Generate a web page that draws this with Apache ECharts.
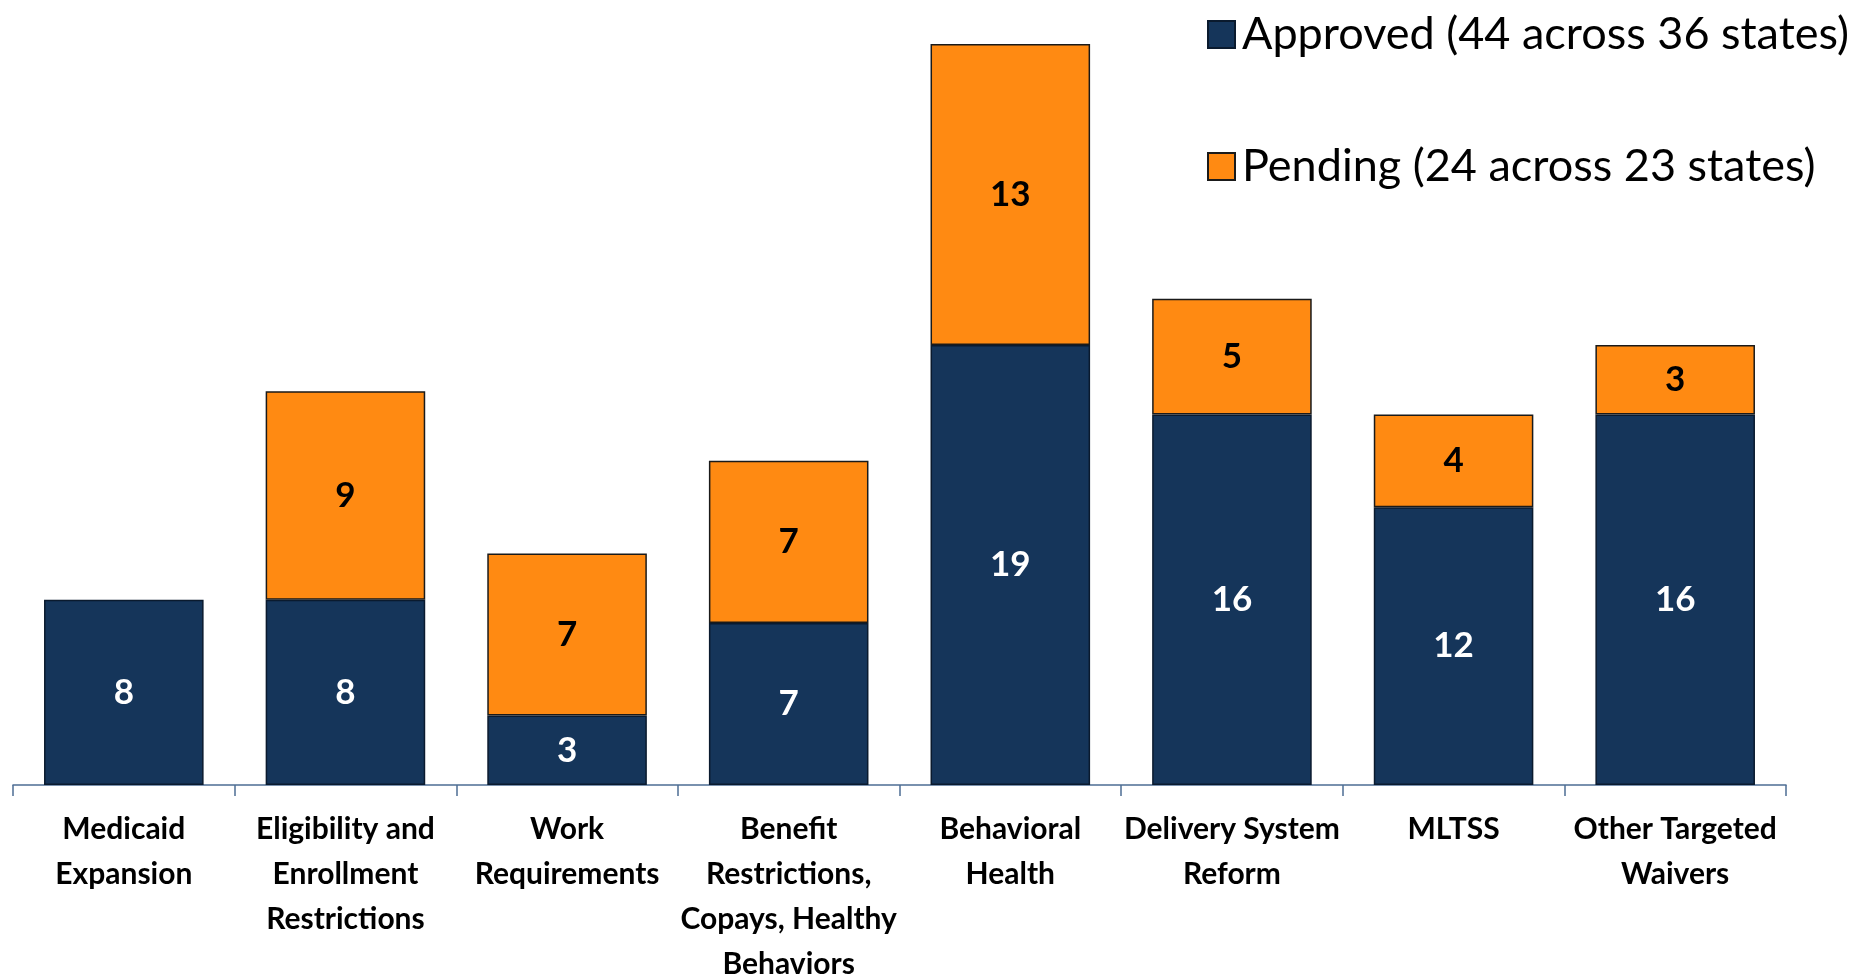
<!DOCTYPE html>
<html>
<head>
<meta charset="utf-8">
<script src="https://cdn.jsdelivr.net/npm/echarts@6/dist/echarts.min.js"></script>
<style>
html, body { margin: 0; padding: 0; background: #ffffff; overflow: hidden; }
#chart { width: 1863px; height: 975px; }
</style>
</head>
<body>
<div id="chart"></div>
<script>
// values
const categories = [
    "Medicaid\nExpansion",
    "Eligibility and\nEnrollment\nRestrictions",
    "Work\nRequirements",
    "Benefit\nRestrictions,\nCopays, Healthy\nBehaviors",
    "Behavioral\nHealth",
    "Delivery System\nReform",
    "MLTSS",
    "Other Targeted\nWaivers"
]
const approved = [8, 8, 3, 7, 19, 16, 12, 16]
const pending = [null, 9, 7, 7, 13, 5, 4, 3]

const approvedName = "Approved (44 across 36 states)"
const pendingName = "Pending (24 across 23 states)"

const NAVY = "#15355A"
const ORANGE = "#FF8A12"
const FONT = "Lato, 'Open Sans', sans-serif"

let chart = echarts.init(document.getElementById("chart"))

function legendAt(name, top) {
    return {
        data: [name],
        left: 1202,
        top: top,
        itemWidth: 27,
        itemHeight: 27,
        itemGap: 0,
        icon: "rect",
        selectedMode: false,
        textStyle: { fontFamily: FONT, fontSize: 45, color: "#000", padding: [0, 0, 0, 2] }
    }
}

chart.setOption({
    animation: false,
    backgroundColor: "#fff",
    legend: [legendAt(approvedName, 7), legendAt(pendingName, 139)],
    grid: { left: 13, right: 77, top: 44, bottom: 190, containLabel: false, outerBoundsMode: "none" },
    xAxis: {
        type: "category",
        data: categories,
        axisLine: { lineStyle: { color: "#4d6d94", width: 1.5 } },
        axisTick: { show: true, length: 11, lineStyle: { color: "#4d6d94", width: 1.5 } },
        axisLabel: {
            interval: 0,
            margin: 22,
            fontFamily: FONT,
            fontSize: 30,
            fontWeight: "bold",
            lineHeight: 45,
            color: "#000"
        }
    },
    yAxis: {
        type: "value",
        min: 0,
        max: 32,
        show: false,
        splitLine: { show: false }
    },
    series: [
        {
            name: approvedName,
            type: "bar",
            stack: "total",
            data: approved,
            barCategoryGap: "28%",
            itemStyle: { color: NAVY, borderColor: "#0a1a2e", borderWidth: 1.5 },
            label: {
                show: true,
                position: "inside",
                color: "#fff",
                fontFamily: FONT,
                fontSize: 35,
                fontWeight: "bold"
            }
        },
        {
            name: pendingName,
            type: "bar",
            stack: "total",
            data: pending,
            itemStyle: { color: ORANGE, borderColor: "#1a1a1a", borderWidth: 1.5 },
            label: {
                show: true,
                position: "inside",
                color: "#000",
                fontFamily: FONT,
                fontSize: 35,
                fontWeight: "bold"
            }
        }
    ]
})
</script>
</body>
</html>
